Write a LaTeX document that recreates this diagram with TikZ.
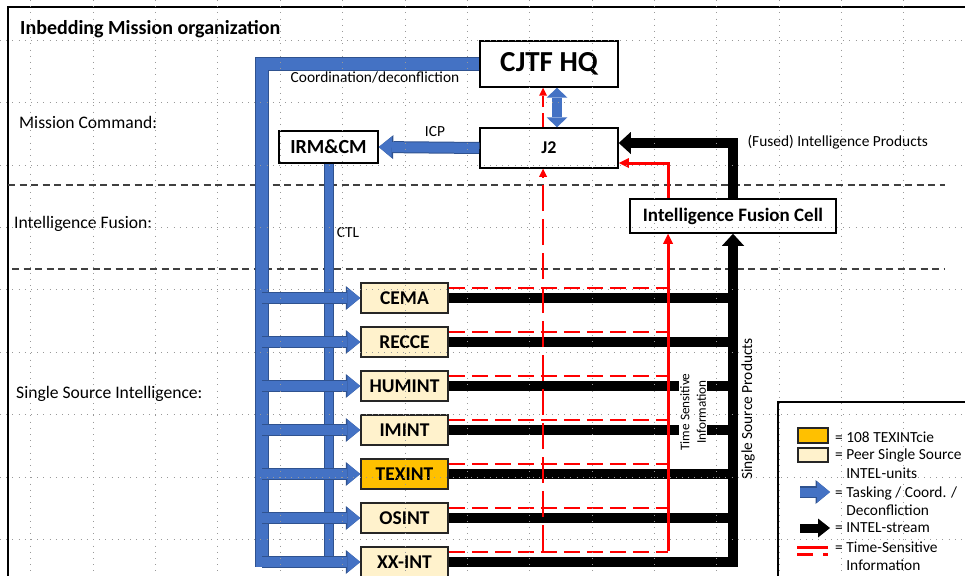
\documentclass[tikz,border=0pt]{standalone}
\usepackage{fontspec}
\setmainfont{Carlito}
\usetikzlibrary{arrows.meta,positioning,calc}
\definecolor{taskblue}{HTML}{4472C4}
\definecolor{taskedge}{HTML}{2F528F}
\definecolor{peerfill}{HTML}{FFF2CC}
\definecolor{ownfill}{HTML}{FFC000}

\begin{document}
\begin{tikzpicture}[x=1pt,y=-1pt,node distance=12.5pt,
  every node/.style={font=\fontsize{15.4}{18.5}\selectfont},
  lvl/.style={anchor=west,inner sep=0pt,font=\fontsize{17.6}{20}\selectfont},
  unit/.style={draw,line width=1.5pt,fill=white,inner sep=0pt},
  src/.style={unit,draw=black!85,fill=peerfill,minimum width=87pt,minimum height=30pt,font=\bfseries\fontsize{19.5}{22}\selectfont},
  band/.style={black!75,line width=1.3pt,dash pattern=on 7pt off 4.5pt},
  gridline/.style={black!40,line width=0.6pt,dash pattern=on 0.8pt off 5.4pt},
  busline/.style={draw=taskblue,line width=12pt,preaction={draw=taskedge,line width=14pt}},
  ctlline/.style={draw=taskblue,line width=8pt,preaction={draw=taskedge,line width=10pt}},
  task/.style={draw=taskblue,line width=10pt,-{Triangle[length=13pt,width=21pt,line width=0pt]},
    preaction={draw=taskedge,line width=12pt,-{Triangle[length=14.5pt,width=24pt,line width=0pt]}}},
  hqlink/.style={draw=taskblue,line width=10pt,{Triangle[length=10pt,width=21pt,line width=0pt]}-{Triangle[length=10pt,width=21pt,line width=0pt]}},
  intel/.style={draw=black,line width=10pt},
  intelarrow/.style={intel,-{Triangle[length=12pt,width=22pt,line width=0pt]}},
  tsi/.style={draw=red,line width=2.5pt,dash pattern=on 16pt off 7pt},
  tsiarrow/.style={draw=red,line width=3pt,-{Triangle[length=10pt,width=10pt,line width=0pt]}}]
\useasboundingbox (0,0) rectangle (965,575);
\clip (0,0) rectangle (965,575);

% frame and level bands
\draw[line width=1.2pt] (8,590) |- (975,7);
\draw[band] (8,185) -- (945,185);
\draw[band] (12,269) -- (945,269);
\node[anchor=west,inner sep=0pt,font=\bfseries\fontsize{20}{24}\selectfont] (title) at (20,29) {Inbedding Mission organization};
\node[lvl] (lvlcmd) at (19,122) {Mission Command:};
\node[lvl] (lvlfus) at (14,224) {Intelligence Fusion:};
\node[lvl] (lvlsrc) at (16,394) {Single Source Intelligence:};

% command and fusion nodes
\node[unit,minimum width=138pt,minimum height=46pt,font=\bfseries\fontsize{29}{32}\selectfont] (cjtf) at (549,64) {CJTF HQ};
\node[unit,minimum width=138pt,minimum height=40pt,font=\bfseries\fontsize{18}{20}\selectfont] (j2) at (549,148) {J2};
\node[unit,minimum width=99pt,minimum height=32pt,font=\bfseries\fontsize{20}{22}\selectfont] (irm) at (328.5,147) {IRM\&CM};
\node[unit,minimum width=206pt,minimum height=34pt,font=\bfseries\fontsize{19}{22}\selectfont] (ifc) at (733,216) {Intelligence Fusion Cell};

% single source units
\node[src] (cema) at (404.5,298) {CEMA};
\node[src,below=of cema] (recce) {RECCE};
\node[src,below=of recce] (humint) {HUMINT};
\node[src,below=of humint] (imint) {IMINT};
\node[src,fill=ownfill,below=of imint] (texint) {TEXINT};
\node[src,below=of texint] (osint) {OSINT};
\node[src,below=of osint] (xxint) {XX-INT};

\coordinate (lbus) at (262,567);
\coordinate (tsbus) at (668,551);
\coordinate (jtsi) at (543,551);

% tasking / coordination
\draw[busline] (cjtf.west) -| (lbus);
\draw[ctlline] (irm.south) -- (irm.south |- xxint.west);
\foreach \n in {cema,recce,humint,imint,texint,osint,xxint}
  \draw[task] (lbus |- \n.west) -- (\n.west);
\draw[task] (j2.west) -- (irm.east);
\draw[hqlink] ([xshift=8pt]cjtf.south) -- ([xshift=8pt]j2.north);
\node (coord) at (375,77) {Coordination/deconfliction};
\node (icp) at (435,132) {ICP};
\node (ctl) at (348,233) {CTL};

% intel stream
\foreach \n in {cema,recce,humint,imint,texint,osint}
  \draw[intel] (\n.east) -- (\n.east -| ifc.south);
\draw[intelarrow] (xxint.east) -| (ifc.south);
\draw[intelarrow] (ifc.north) |- ([yshift=5pt]j2.east);
\node[anchor=west] (fused) at (744,142) {(Fused) Intelligence Products};
\node[rotate=90] (ssp) at (748,409) {Single Source Products};

% time sensitive information
\foreach \n in {cema,recce,humint,imint,texint,osint,xxint}
  \draw[tsi] ($(\n.east)+(0,-10)$) coordinate (t) -- (t -| tsbus);
\draw[tsiarrow] (tsbus) -- (tsbus |- ifc.south);
\draw[tsiarrow] (tsbus |- ifc.north) |- ([yshift=-15pt]j2.east);
\draw[tsi,dash pattern=on 26pt off 8pt,-{Triangle[length=8pt,width=8pt,line width=0pt]}] (jtsi) -- (jtsi |- j2.south);
\draw[tsi,dash pattern=on 14pt off 6pt,-{Triangle[length=8pt,width=8pt,line width=0pt]}] (jtsi |- j2.north) -- (jtsi |- cjtf.south);
\node[rotate=90,fill=white,inner sep=1.5pt,align=center,font=\fontsize{13.2}{16.5}\selectfont] (tsilabel) at (693,412) {Time Sensitive\\Information};

% legend
\draw[line width=1.2pt] (778,590) |- (975,402);
\node[unit,draw=black!85,fill=ownfill,minimum width=30pt,minimum height=15pt] (keyown) at (813,435.5) {};
\node[unit,draw=black!85,fill=peerfill,minimum width=30pt,minimum height=14pt] (keypeer) at (813,455) {};
\coordinate (keytaska) at (800,492);
\coordinate (keytaskb) at (830,492);
\coordinate (keyintela) at (800,528);
\coordinate (keyintelb) at (830,528);
\draw[task,line width=9pt] (keytaska) -- (keytaskb);
\draw[intel,line width=9pt,-{Triangle[length=12pt,width=19pt,line width=0pt]}] (keyintela) -- (keyintelb);
\draw[red,line width=3pt] (797,547) -- (828,547);
\draw[red,line width=3pt,dash pattern=on 16pt off 10pt] (797,554) -- (828,554);
\node[anchor=west,inner sep=0pt] (keyowntxt) at (835,437) {= 108 TEXINTcie};
\node[anchor=west,inner sep=0pt,align=left] (keypeertxt) at (835,463.5) {= Peer Single Source\\\phantom{= }INTEL-units};
\node[anchor=west,inner sep=0pt,align=left] (keytasktxt) at (835,501) {= Tasking / Coord. /\\\phantom{= }Deconfliction};
\node[anchor=west,inner sep=0pt] (keyinteltxt) at (835,528) {= INTEL-stream};
\node[anchor=west,inner sep=0pt,align=left] (keytsitxt) at (835,556) {= Time-Sensitive\\\phantom{= }Information};

% slide grid
\foreach \k in {0,...,15} \draw[gridline] ({30.7+62.35*\k},0) -- ++(0,575);
\foreach \k in {0,...,8} \draw[gridline] (0,{40+62.4*\k}) -- ++(965,0);
\end{tikzpicture}
\end{document}
